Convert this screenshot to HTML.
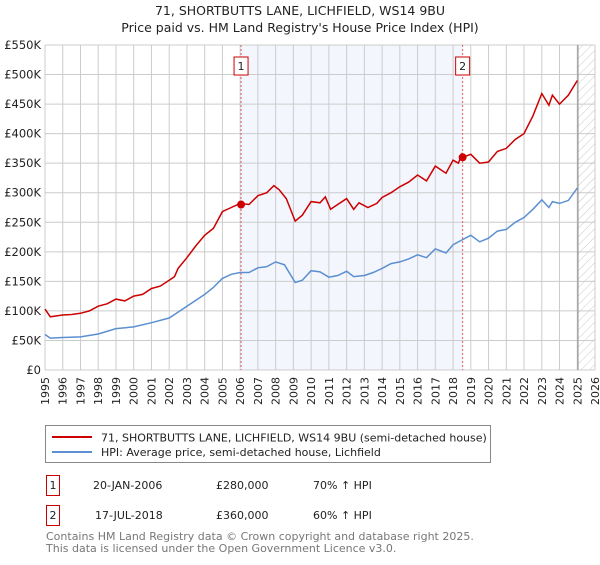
<!DOCTYPE html>
<html><head><meta charset="utf-8"><style>
body{margin:0;background:#fff;width:600px;height:560px;overflow:hidden;font-family:"Liberation Sans","DejaVu Sans",sans-serif;}
svg text{font-family:"DejaVu Sans","Liberation Sans",sans-serif;}
</style></head><body>
<svg id="chart" width="600" height="560" xmlns="http://www.w3.org/2000/svg">
<text x="300" y="15" text-anchor="middle" font-size="12.5" fill="#222">71, SHORTBUTTS LANE, LICHFIELD, WS14 9BU</text>
<text x="300" y="32" text-anchor="middle" font-size="12.5" fill="#222">Price paid vs. HM Land Registry's House Price Index (HPI)</text>
<defs><pattern id="hatch" width="6" height="6" patternUnits="userSpaceOnUse" patternTransform="rotate(45)"><line x1="0" y1="0" x2="0" y2="6" stroke="#bbb" stroke-width="0.8"/></pattern></defs>
<g id="plot"></g>
<g>
<rect x="45.5" y="425.5" width="445" height="37" fill="#fff" stroke="#888"/>
<line x1="52" y1="437" x2="92" y2="437" stroke="#cc0000" stroke-width="2"/>
<text x="101" y="441.5" font-size="11" fill="#222">71, SHORTBUTTS LANE, LICHFIELD, WS14 9BU (semi-detached house)</text>
<line x1="52" y1="452" x2="92" y2="452" stroke="#5b8fd1" stroke-width="2"/>
<text x="101" y="456" font-size="11" fill="#222">HPI: Average price, semi-detached house, Lichfield</text>
</g>
<g font-size="11" fill="#222">
<rect x="46.5" y="475.5" width="13" height="20" fill="#fff" stroke="#cc0000"/>
<text x="53" y="489" text-anchor="middle">1</text>
<text x="93" y="489">20-JAN-2006</text><text x="216" y="489">£280,000</text><text x="313" y="489">70% ↑ HPI</text>
<rect x="46.5" y="505.5" width="13" height="20" fill="#fff" stroke="#cc0000"/>
<text x="53" y="519" text-anchor="middle">2</text>
<text x="95" y="519">17-JUL-2018</text><text x="216" y="519">£360,000</text><text x="313" y="519">60% ↑ HPI</text>
</g>
<g font-size="11" fill="#777">
<text x="46" y="540">Contains HM Land Registry data © Crown copyright and database right 2025.</text>
<text x="46" y="552">This data is licensed under the Open Government Licence v3.0.</text>
</g>
</svg>
<script>
const yTicks=[0,50,100,150,200,250,300,350,400,450,500,550];
const yTickLabels=["£0","£50K","£100K","£150K","£200K","£250K","£300K","£350K","£400K","£450K","£500K","£550K"];
const years=[1995,1996,1997,1998,1999,2000,2001,2002,2003,2004,2005,2006,2007,2008,2009,2010,2011,2012,2013,2014,2015,2016,2017,2018,2019,2020,2021,2022,2023,2024,2025,2026];
const priceT=[1995.0,1995.3,1996,1996.5,1997,1997.5,1998,1998.5,1999,1999.5,2000,2000.5,2001,2001.5,2002,2002.3,2002.5,2003,2003.5,2004,2004.5,2005,2005.5,2006,2006.5,2007,2007.5,2007.9,2008.2,2008.6,2009.1,2009.5,2010,2010.5,2010.8,2011.1,2011.5,2012,2012.4,2012.7,2013.2,2013.7,2014,2014.5,2015,2015.5,2016,2016.5,2017,2017.6,2018,2018.3,2018.5,2018.55,2019,2019.5,2020,2020.5,2021,2021.5,2022,2022.5,2023,2023.4,2023.6,2024,2024.5,2025];
const priceV=[103,90,93,94,96,100,108,112,120,117,125,128,138,142,152,158,172,190,210,228,240,268,275,282,280,295,300,312,305,290,252,262,285,283,293,272,280,290,272,283,275,282,292,300,310,318,330,320,345,333,355,350,365,360,365,350,352,370,375,390,400,430,468,448,465,450,465,490];
const hpiT=[1995,1995.3,1996,1997,1998,1999,2000,2001,2002,2002.3,2003,2004,2004.5,2005,2005.5,2006,2006.5,2007,2007.5,2008,2008.5,2009.1,2009.5,2010,2010.5,2011,2011.5,2012,2012.4,2013,2013.5,2014,2014.5,2015,2015.5,2016,2016.5,2017,2017.6,2018,2018.5,2019,2019.5,2020,2020.5,2021,2021.5,2022,2022.5,2023,2023.4,2023.6,2024,2024.5,2025];
const hpiV=[60,54,55,56,61,70,73,80,88,94,108,128,140,155,162,165,165,173,175,183,178,148,152,168,166,157,160,167,158,160,165,172,180,183,188,195,190,205,198,212,220,228,217,223,235,238,250,258,272,288,275,285,282,287,308];
const saleT=[2006.05,2018.54];
const saleV=[280,360];
const saleLabels=["1","2"];
const X0=45,X1=595,Y0=370,Y1=45;
const xs=t=>X0+(t-1995)/(2026-1995)*(X1-X0);
const ys=v=>Y0-v/550*(Y0-Y1);
const NS="http://www.w3.org/2000/svg";
const g=document.getElementById('plot');
function mk(tag,attrs,parent){const e=document.createElementNS(NS,tag);for(const k in attrs)e.setAttribute(k,attrs[k]);(parent||g).appendChild(e);return e;}
let e;
e=mk('rect',{x:xs(saleT[0]),y:Y1,width:xs(saleT[1])-xs(saleT[0]),height:Y0-Y1,fill:'#eef2fc',opacity:0.7});


e=mk('rect',{x:xs(2025.04),y:Y1,width:X1-xs(2025.04),height:Y0-Y1,fill:'url(#hatch)'});


years.forEach(y=>{e=mk('line',{x1:xs(y),x2:xs(y),y1:Y1,y2:Y0,stroke:'#ccc','stroke-width':1});


e=mk('text',{x:0,y:0,transform:`translate(${xs(y)+4},377) rotate(-90)`,'text-anchor':'end','font-size':11,fill:'#222'});e.textContent=y;

});
yTicks.forEach((v,i)=>{e=mk('line',{x1:X0,x2:X1,y1:ys(v),y2:ys(v),stroke:'#ccc','stroke-width':1});


e=mk('text',{x:41,y:ys(v)+4,'text-anchor':'end','font-size':11.5,fill:'#222'});e.textContent=yTickLabels[i];

});
e=mk('line',{x1:xs(2025.04),x2:xs(2025.04),y1:Y1,y2:Y0,stroke:'#888','stroke-width':1});


saleT.forEach((t,i)=>{e=mk('line',{x1:xs(t),x2:xs(t),y1:Y1,y2:Y0,stroke:'#e06060','stroke-width':1,'stroke-dasharray':'2,2'});


e=mk('rect',{x:xs(t)-7,y:57,width:14,height:18,fill:'#fff',stroke:'#cc0000'});


e=mk('text',{x:xs(t),y:70,'text-anchor':'middle','font-size':11,fill:'#222'});e.textContent=saleLabels[i];

});
function path(T,V){return T.map((t,i)=>(i?'L':'M')+xs(t).toFixed(1)+','+ys(V[i]).toFixed(1)).join('');}
e=mk('path',{d:path(hpiT,hpiV),fill:'none',stroke:'#5b8fd1','stroke-width':1.5});


e=mk('path',{d:path(priceT,priceV),fill:'none',stroke:'#cc0000','stroke-width':1.5});


saleT.forEach((t,i)=>{e=mk('circle',{cx:xs(t),cy:ys(saleV[i]),r:4,fill:'#cc0000'});

});
</script>
</body></html>
